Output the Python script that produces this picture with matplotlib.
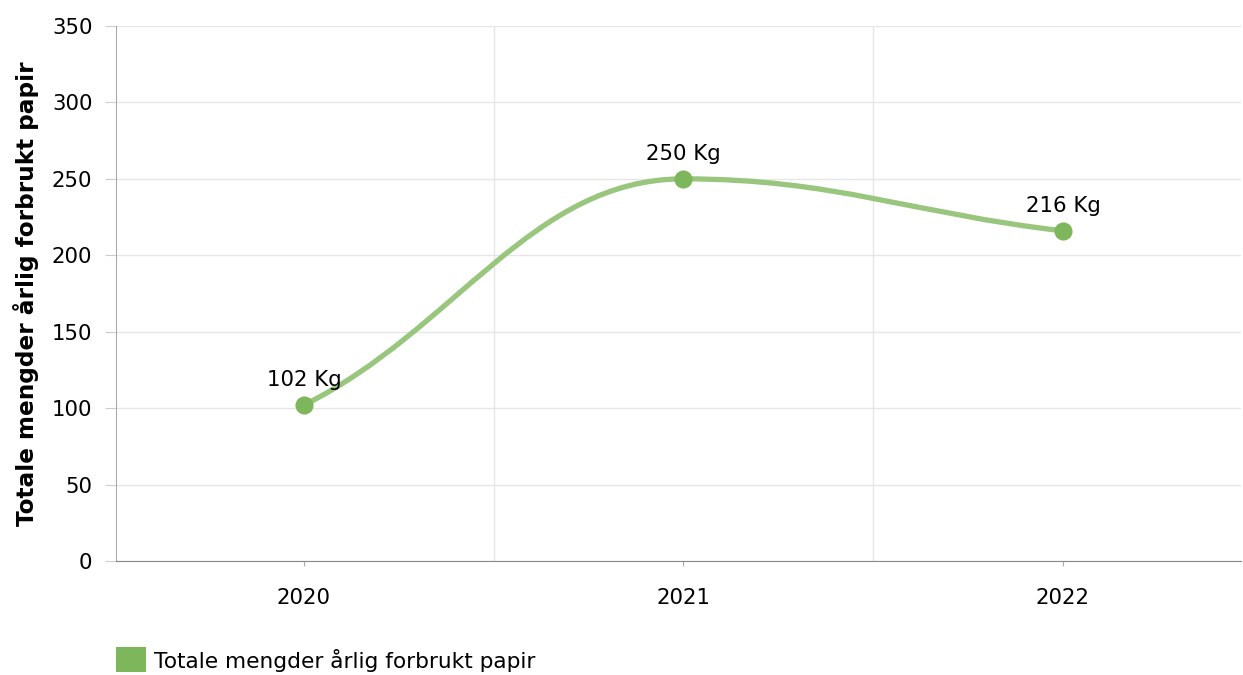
import matplotlib
matplotlib.use("Agg")
import matplotlib.pyplot as plt
from matplotlib.path import Path
from matplotlib.patches import PathPatch, Rectangle
import numpy as np

years = ["2020", "2021", "2022"]
values = [102, 250, 216]
labels = ["102 Kg", "250 Kg", "216 Kg"]
series_name = "Totale mengder årlig forbrukt papir"
y_ticks = [0, 50, 100, 150, 200, 250, 300, 350]

plt.rcParams["font.family"] = ["DejaVu Sans"]

line_color = "#98c67d"
marker_color = "#7db65b"


def spline_path(xs, ys, smoothing=1.5):
    # smooth cubic segments, roughly like a Highcharts spline
    n = len(xs)
    left = [None] * n
    right = [None] * n
    denom = smoothing + 1
    for i in range(1, n - 1):
        lx = (smoothing * xs[i] + xs[i - 1]) / denom
        ly = (smoothing * ys[i] + ys[i - 1]) / denom
        rx = (smoothing * xs[i] + xs[i + 1]) / denom
        ry = (smoothing * ys[i] + ys[i + 1]) / denom
        corr = (ry - ly) * (rx - xs[i]) / (rx - lx) + ys[i] - ry
        ly += corr
        ry += corr
        if ly > ys[i - 1] and ly > ys[i]:
            ly = max(ys[i - 1], ys[i]); ry = 2 * ys[i] - ly
        elif ly < ys[i - 1] and ly < ys[i]:
            ly = min(ys[i - 1], ys[i]); ry = 2 * ys[i] - ly
        if ry > ys[i + 1] and ry > ys[i]:
            ry = max(ys[i + 1], ys[i]); ly = 2 * ys[i] - ry
        elif ry < ys[i + 1] and ry < ys[i]:
            ry = min(ys[i + 1], ys[i]); ly = 2 * ys[i] - ry
        left[i] = (lx, ly)
        right[i] = (rx, ry)
    # end points: soft tangent towards the neighbour
    right[0] = (xs[0] + (xs[1] - xs[0]) / denom, ys[0] + (ys[1] - ys[0]) / 3)
    left[-1] = (xs[-1] - (xs[-1] - xs[-2]) / denom, ys[-1] + (ys[-2] - ys[-1]) / 3)
    verts = [(xs[0], ys[0])]
    codes = [Path.MOVETO]
    for i in range(1, n):
        verts += [right[i - 1], left[i], (xs[i], ys[i])]
        codes += [Path.CURVE4] * 3
    return Path(verts, codes)


W, H = 1243, 675
fig = plt.figure(figsize=(W / 100, H / 100), dpi=100)
ax = fig.add_axes([116 / W, 1 - 561 / H, 1125 / W, 535 / H])

x = np.arange(len(years))
ax.add_patch(PathPatch(spline_path(x, values), facecolor="none",
                       edgecolor=line_color, lw=3.8, capstyle="round", zorder=3))
ax.scatter(x, values, s=170, color=marker_color, zorder=4, linewidths=0)

for xi, v, lab in zip(x, values, labels):
    ax.annotate(lab, (xi, v), xytext=(0, 13.5), textcoords="offset points",
                ha="center", va="baseline", fontsize=15.3, color="black")

ax.set_xlim(-0.495, 2.469)
ax.set_ylim(0, 350)
ax.set_yticks(y_ticks)
ax.set_xticks(x)
ax.set_xticklabels(years)
ax.set_xticks([0.5, 1.5], minor=True)

ax.grid(axis="y", color="#e6e6e6", lw=1)
ax.grid(axis="x", which="minor", color="#e6e6e6", lw=1)
ax.set_axisbelow(True)

for s in ["top", "right"]:
    ax.spines[s].set_visible(False)
ax.spines["left"].set_color("#aaaaaa")
ax.spines["bottom"].set_color("#888888")

ax.tick_params(axis="y", length=8, color="#cccccc", labelsize=15.3, pad=9)
ax.tick_params(axis="x", which="major", length=3.6, color="#aaaaaa",
               labelsize=15.3, pad=16)
ax.tick_params(axis="x", which="minor", length=0)

ax.set_ylabel("Totale mengder årlig forbrukt papir", fontsize=16.7,
              fontweight="bold", labelpad=9)

# legend
fig.patches.append(Rectangle((116 / W, 1 - 672 / H), 30 / W, 25 / H,
                             transform=fig.transFigure, facecolor=marker_color,
                             edgecolor="none"))
fig.text(154 / W, 1 - 661 / H, series_name, fontsize=15.6, va="center", ha="left")

fig.savefig("out.png", dpi=100)
